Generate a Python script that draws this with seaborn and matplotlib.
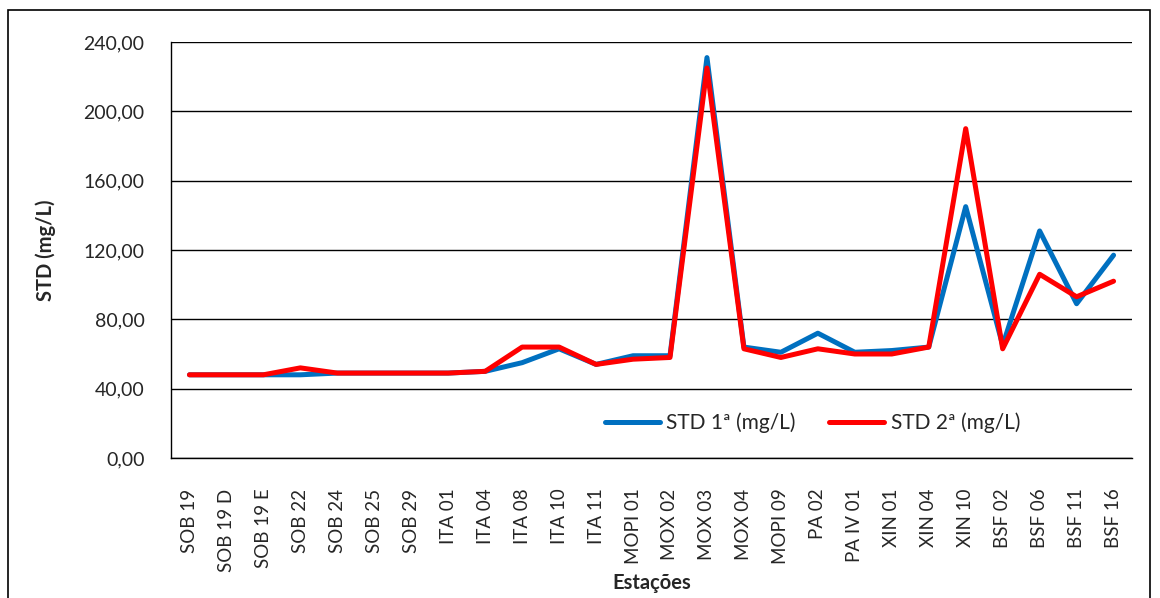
import numpy as np
import pandas as pd
import matplotlib
matplotlib.use("Agg")
import matplotlib.pyplot as plt
from matplotlib.ticker import FuncFormatter, FixedLocator
from matplotlib.patches import Rectangle
import seaborn as sns

estacoes = ["SOB 19", "SOB 19 D", "SOB 19 E", "SOB 22", "SOB 24", "SOB 25", "SOB 29",
            "ITA 01", "ITA 04", "ITA 08", "ITA 10", "ITA 11", "MOPI 01", "MOX 02",
            "MOX 03", "MOX 04", "MOPI 09", "PA 02", "PA IV 01", "XIN 01", "XIN 04",
            "XIN 10", "BSF 02", "BSF 06", "BSF 11", "BSF 16"]
std_1 = [48, 48, 48, 48, 49, 49, 49, 49, 50, 55, 63, 54, 59, 59,
         231, 64, 61, 72, 61, 62, 64, 145, 65, 131, 89, 117]
std_2 = [48, 48, 48, 52, 49, 49, 49, 49, 50, 64, 64, 54, 57, 58,
         225, 63, 58, 63, 60, 60, 64, 190, 63, 106, 93, 102]

series_names = ["STD 1ª (mg/L)", "STD 2ª (mg/L)"]
colors = ["#0070C0", "#FF0000"]

df = pd.DataFrame({"Estação": estacoes * 2,
                   "STD": std_1 + std_2,
                   "Série": [series_names[0]] * len(estacoes) + [series_names[1]] * len(estacoes)})

sns.set_style("white")
plt.rcParams["font.family"] = ["Lato", "DejaVu Sans"]

fig = plt.figure(figsize=(11.6, 5.98), dpi=100)
ax = fig.add_axes([0.1474, 0.2341, 0.8285, 0.6957])

sns.lineplot(data=df, x="Estação", y="STD", hue="Série", palette=colors,
             linewidth=3.6, sort=False, ax=ax)

ax.set_ylim(0, 240)
ax.set_yticks(np.arange(0, 241, 40))
ax.yaxis.set_major_formatter(FuncFormatter(lambda v, p: f"{v:.2f}".replace(".", ",")))
ax.set_xlim(-0.5, len(estacoes) - 0.5)
ax.set_xticks(range(len(estacoes)))
ax.set_xticklabels(estacoes, rotation=90, fontsize=13.5)
ax.xaxis.set_minor_locator(FixedLocator(np.arange(-0.5, len(estacoes), 1.0)))
ax.tick_params(axis="x", which="major", length=0, pad=22)
ax.tick_params(axis="x", which="minor", length=6, width=1, color="black", direction="out")
ax.tick_params(axis="y", which="major", length=5, width=1, color="black", direction="out",
               labelsize=14, pad=14)

ax.grid(axis="y", color="black", linewidth=1)
ax.set_axisbelow(True)
for s in ["top", "right"]:
    ax.spines[s].set_visible(False)
for s in ["left", "bottom"]:
    ax.spines[s].set_color("black")
    ax.spines[s].set_linewidth(1)

ax.set_ylabel("STD (mg/L)", fontsize=14.5, fontweight="bold", labelpad=20)
ax.set_xlabel("Estações", fontsize=14.5, fontweight="bold", labelpad=1)

ax.legend(loc="center left", bbox_to_anchor=(0.432, 0.085), ncol=2, frameon=False,
          fontsize=15, handlelength=2.65, handletextpad=0.3, columnspacing=1.6,
          title=None)

fig.patches.append(Rectangle((8 / 1160, -0.02), 1142 / 1160, 1 - 10 / 598 + 0.02,
                             transform=fig.transFigure, fill=False,
                             edgecolor="black", linewidth=1.2))

fig.savefig("out.png", dpi=100)
